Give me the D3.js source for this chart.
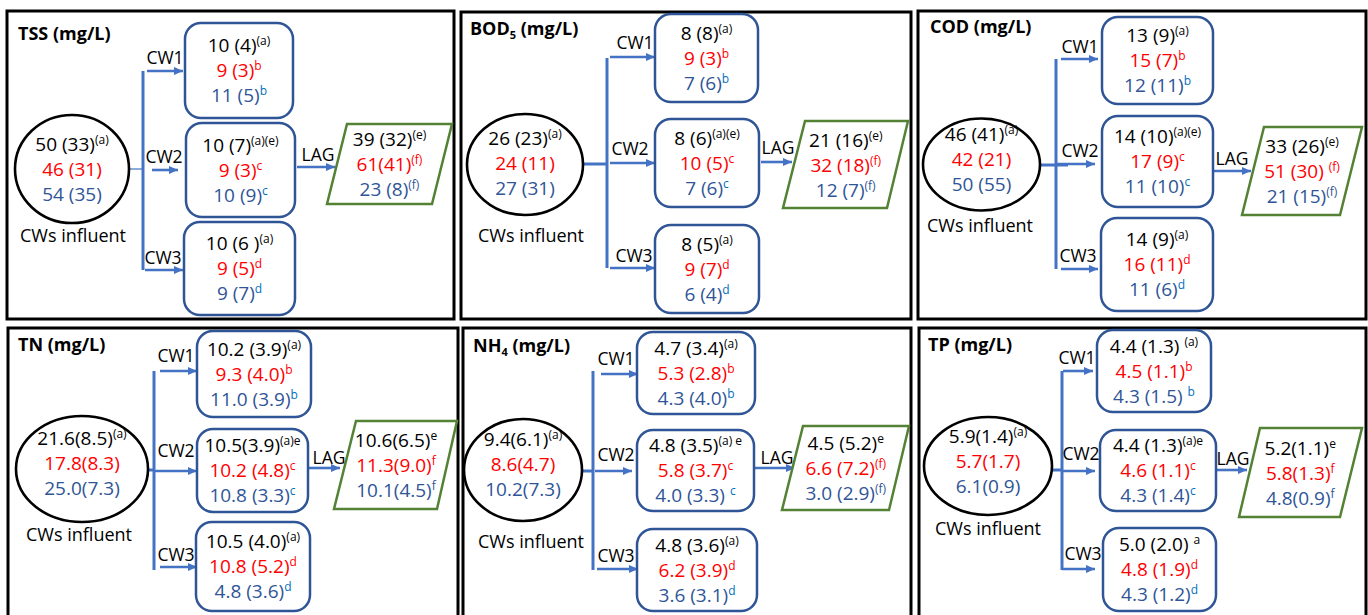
<!DOCTYPE html>
<html lang="en">
<head>
<meta charset="UTF-8">
<title>CW and LAG effluent concentrations</title>
<script src="https://d3js.org/d3.v7.min.js"></script>
<style>
  body { margin: 0; background: #fff; }
  text { font-family: "Open Sans", sans-serif; white-space: pre; }
  .val { font-size: 19px; }
  .lbl { font-size: 17.5px; fill: #000; }
  .title { font-size: 18px; font-weight: bold; fill: #000; }
</style>
</head>
<body>
<script>
// parameters (title text, subscript)
const titles = [["TSS", ""], ["BOD", "5"], ["COD", ""], ["TN", ""], ["NH", "4"], ["TP", ""]];

// three rows per node: all / red row / blue row, "^" splits the superscript letter
const influent = [
  ["50 (33)^(a)", "46 (31)", "54 (35)"],
  ["26 (23)^(a)", "24 (11)", "27 (31)"],
  ["46 (41)^(a)", "42 (21)", "50 (55)"],
  ["21.6(8.5)^(a)", "17.8(8.3)", "25.0(7.3)"],
  ["9.4(6.1)^(a)", "8.6(4.7)", "10.2(7.3)"],
  ["5.9(1.4)^(a)", "5.7(1.7)", "6.1(0.9)"]
];
const cw1 = [
  ["10 (4)^(a)", "9 (3)^b", "11 (5)^b"],
  ["8 (8)^(a)", "9 (3)^b", "7 (6)^b"],
  ["13 (9)^(a)", "15 (7)^b", "12 (11)^b"],
  ["10.2 (3.9)^(a)", "9.3 (4.0)^b", "11.0 (3.9)^b"],
  ["4.7 (3.4)^(a)", "5.3 (2.8)^b", "4.3 (4.0)^b"],
  ["4.4 (1.3) ^(a)", "4.5 (1.1)^b", "4.3 (1.5) ^b"]
];
const cw2 = [
  ["10 (7)^(a)(e)", "9 (3)^c", "10 (9)^c"],
  ["8 (6)^(a)(e)", "10 (5)^c", "7 (6)^c"],
  ["14 (10)^(a)(e)", "17 (9)^c", "11 (10)^c"],
  ["10.5(3.9)^(a)e", "10.2 (4.8)^c", "10.8 (3.3)^c"],
  ["4.8 (3.5)^(a) e", "5.8 (3.7)^c", "4.0 (3.3) ^c"],
  ["4.4 (1.3)^(a)e", "4.6 (1.1)^c", "4.3 (1.4)^c"]
];
const cw3 = [
  ["10 (6 )^(a)", "9 (5)^d", "9 (7)^d"],
  ["8 (5)^(a)", "9 (7)^d", "6 (4)^d"],
  ["14 (9)^(a)", "16 (11)^d", "11 (6)^d"],
  ["10.5 (4.0)^(a)", "10.8 (5.2)^d", "4.8 (3.6)^d"],
  ["4.8 (3.6)^(a)", "6.2 (3.9)^d", "3.6 (3.1)^d"],
  ["5.0 (2.0) ^a", "4.8 (1.9)^d", "4.3 (1.2)^d"]
];
const lag = [
  ["39 (32)^(e)", "61(41)^(f)", "23 (8)^(f)"],
  ["21 (16)^(e)", "32 (18)^(f)", "12 (7)^(f)"],
  ["33 (26)^(e)", "51 (30) ^(f)", "21 (15)^(f)"],
  ["10.6(6.5)^e", "11.3(9.0)^f", "10.1(4.5)^f"],
  ["4.5 (5.2)^e", "6.6 (7.2)^(f)", "3.0 (2.9)^(f)"],
  ["5.2(1.1)^e", "5.8(1.3)^f", "4.8(0.9)^f"]
];
const cwNames = ["CW1", "CW2", "CW3"];

// drawing geometry for each panel
const layout = [
  { frame: [7, 11, 454, 319], title: [18, 40], ell: [72, 169, 57, 54], ellMid: 176, inf: [73, 242],
    trunk: [143, 71, 270], feed: [128, 143, 169, 1.2],
    arrows: [[147, 183, 71], [152, 178, 170], [145, 183, 270]],
    cwLbl: [[165, 64], [164, 163], [163, 264]],
    boxes: [[185, 23, 293, 118], [186, 123, 295, 217], [184, 222, 295, 315]],
    lagArrow: [297, 335, 167], lagLbl: [318, 161],
    para: [[347, 124], [452, 124], [432, 204], [327, 204]] },
  { frame: [461, 12, 911, 319], title: [470, 35], ell: [525, 164.5, 58, 50.5], ellMid: 170, inf: [531, 242],
    trunk: [607, 58, 268], feed: [583, 607, 164, 3],
    arrows: [[610, 655, 57], [610, 655, 163], [610, 655, 268]],
    cwLbl: [[635, 49], [630, 155], [634, 262]],
    boxes: [[655, 14, 758, 102], [655, 119, 759, 207], [655, 225, 759, 313]],
    lagArrow: [761, 792, 162], lagLbl: [778, 154],
    para: [[805, 121], [908, 121], [887, 208], [783, 208]] },
  { frame: [918, 11, 1366, 319], title: [930, 33], ell: [981.5, 164.5, 58.5, 46], ellMid: 166, inf: [980, 232],
    trunk: [1056, 59, 269], feed: [1040, 1068, 165, 3],
    arrows: [[1061, 1098, 59], [1057, 1095, 164], [1061, 1098, 269]],
    cwLbl: [[1080, 53], [1080, 157], [1078, 262]],
    boxes: [[1102, 17, 1213, 104], [1102, 116, 1213, 207], [1101, 218, 1213, 311]],
    lagArrow: [1210, 1251, 171], lagLbl: [1232, 165],
    para: [[1264, 127], [1362, 127], [1340, 215], [1242, 215]] },
  { frame: [8, 328, 458, 620], title: [18, 351], ell: [82, 469, 66, 53], ellMid: 470, inf: [79, 541],
    trunk: [154, 371, 570], feed: [143, 155, 470, 3],
    arrows: [[160, 197, 371], [155, 197, 471], [160, 197, 567]],
    cwLbl: [[176, 362], [176, 457], [176, 561]],
    boxes: [[197, 331, 311, 417], [197, 429, 308, 512], [196, 522, 310, 611]],
    lagArrow: [308, 340, 468], lagLbl: [329, 464],
    para: [[356, 421], [457, 421], [437, 509], [334, 509]] },
  { frame: [463, 328, 911, 620], title: [473, 352], ell: [523, 470, 59, 51], ellMid: 471, inf: [531, 548],
    trunk: [593, 371, 570], feed: [582, 593, 471, 3],
    arrows: [[601, 638, 374], [595, 632, 471], [597, 638, 569]],
    cwLbl: [[616, 365], [616, 461], [616, 562]],
    boxes: [[637, 332, 755, 414], [637, 430, 754, 511], [637, 529, 757, 611]],
    lagArrow: [754, 795, 468], lagLbl: [777, 464],
    para: [[803, 426], [909, 426], [889, 510], [782, 510]] },
  { frame: [919, 328, 1366, 620], title: [928, 351], ell: [988, 466, 64, 49], ellMid: 468, inf: [988, 535],
    trunk: [1062, 371, 570], feed: [1052, 1062, 470, 3],
    arrows: [[1063, 1093, 371], [1062, 1095, 471], [1062, 1095, 569]],
    cwLbl: [[1077, 364], [1081, 460], [1083, 560]],
    boxes: [[1097, 330, 1211, 412], [1100, 430, 1216, 511], [1103, 528, 1216, 611]],
    lagArrow: [1216, 1247, 470], lagLbl: [1233, 465],
    para: [[1260, 428], [1362, 428], [1340, 517], [1239, 517]] }
];

const rowColors = ["#000000", "#ff0000", "#2f5597"];
const arrowColor = "#4472c4";
const boxColor = "#2f5597";
const lagColor = "#548235";

const svg = d3.select("body").append("svg")
  .attr("width", 1368)
  .attr("height", 615);

svg.append("defs").append("marker")
  .attr("id", "head")
  .attr("markerUnits", "userSpaceOnUse")
  .attr("markerWidth", 9).attr("markerHeight", 8)
  .attr("refX", 9).attr("refY", 4)
  .attr("orient", "auto")
  .append("path")
  .attr("d", "M0,0 L9,4 L0,8 Z")
  .attr("fill", arrowColor);

// writes three centred rows, superscript after "^"
function writeRows(g, lines, cx, midY, supBlue) {
  lines.forEach((s, i) => {
    const [main, sup] = s.split("^");
    const t = g.append("text")
      .attr("class", "val")
      .attr("x", cx)
      .attr("y", midY + (i - 1) * 25)
      .attr("text-anchor", "middle")
      .attr("fill", rowColors[i]);
    t.append("tspan").text(main);
    if (sup) {
      t.append("tspan")
        .attr("dy", -7)
        .attr("font-size", 12)
        .attr("fill", supBlue && i === 2 ? "#0070c0" : rowColors[i])
        .text(sup);
    }
  });
}

function arrow(g, a, w) {
  g.append("line")
    .attr("x1", a[0]).attr("x2", a[1])
    .attr("y1", a[2]).attr("y2", a[2])
    .attr("stroke", arrowColor)
    .attr("stroke-width", w || 2.6)
    .attr("marker-end", "url(#head)");
}

layout.forEach((L, p) => {
  const g = svg.append("g");

  // frame
  g.append("rect")
    .attr("x", L.frame[0]).attr("y", L.frame[1])
    .attr("width", L.frame[2] - L.frame[0])
    .attr("height", L.frame[3] - L.frame[1])
    .attr("fill", "none")
    .attr("stroke", "#000")
    .attr("stroke-width", 3);

  // title
  const tt = g.append("text").attr("class", "title")
    .attr("x", L.title[0]).attr("y", L.title[1]);
  tt.append("tspan").text(titles[p][0]);
  if (titles[p][1]) {
    tt.append("tspan").attr("dy", 4).attr("font-size", 11).text(titles[p][1]);
    tt.append("tspan").attr("dy", -4).text(" (mg/L)");
  } else {
    tt.append("tspan").text(" (mg/L)");
  }

  // distribution lines
  g.append("line")
    .attr("x1", L.feed[0]).attr("x2", L.feed[1])
    .attr("y1", L.feed[2]).attr("y2", L.feed[2])
    .attr("stroke", arrowColor).attr("stroke-width", L.feed[3]);
  g.append("line")
    .attr("x1", L.trunk[0]).attr("x2", L.trunk[0])
    .attr("y1", L.trunk[1]).attr("y2", L.trunk[2])
    .attr("stroke", arrowColor).attr("stroke-width", 3);
  L.arrows.forEach(a => arrow(g, a));
  arrow(g, L.lagArrow);

  // influent
  g.append("ellipse")
    .attr("cx", L.ell[0]).attr("cy", L.ell[1])
    .attr("rx", L.ell[2]).attr("ry", L.ell[3])
    .attr("fill", "#fff")
    .attr("stroke", "#000")
    .attr("stroke-width", 2.6);
  writeRows(g, influent[p], L.ell[0], L.ellMid, false);
  g.append("text").attr("class", "lbl")
    .attr("x", L.inf[0]).attr("y", L.inf[1])
    .attr("text-anchor", "middle")
    .style("font-size", "18px")
    .text("CWs influent");

  // wetland boxes
  const cwData = [cw1[p], cw2[p], cw3[p]];
  L.boxes.forEach((b, i) => {
    g.append("rect")
      .attr("x", b[0]).attr("y", b[1])
      .attr("width", b[2] - b[0]).attr("height", b[3] - b[1])
      .attr("rx", 16)
      .attr("fill", "#fff")
      .attr("stroke", boxColor)
      .attr("stroke-width", 2.5);
    writeRows(g, cwData[i], (b[0] + b[2]) / 2, (b[1] + b[3]) / 2 + 6.5, true);
    g.append("text").attr("class", "lbl")
      .attr("x", L.cwLbl[i][0]).attr("y", L.cwLbl[i][1])
      .attr("text-anchor", "middle")
      .text(cwNames[i]);
  });

  // lagoon
  g.append("path")
    .attr("d", d3.line()(L.para) + "Z")
    .attr("fill", "#fff")
    .attr("stroke", lagColor)
    .attr("stroke-width", 2.5);
  const pcx = d3.mean(L.para, d => d[0]);
  const pcy = d3.mean(L.para, d => d[1]);
  writeRows(g, lag[p], pcx, pcy + 7, false);
  g.append("text").attr("class", "lbl")
    .attr("x", L.lagLbl[0]).attr("y", L.lagLbl[1])
    .attr("text-anchor", "middle")
    .text("LAG");
});
</script>
</body>
</html>
